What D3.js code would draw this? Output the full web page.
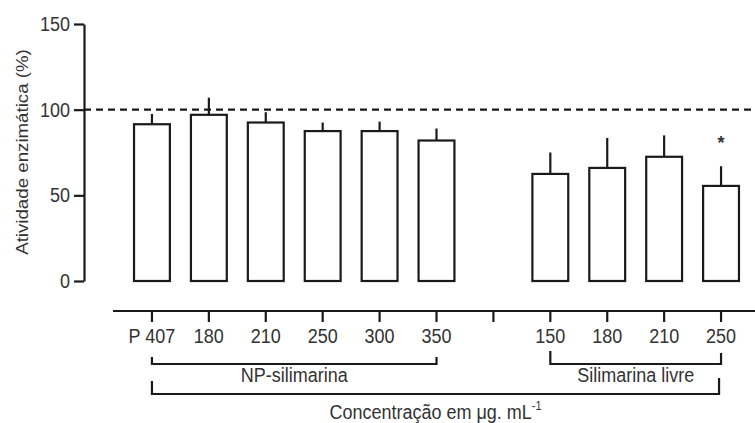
<!DOCTYPE html>
<html><head><meta charset="utf-8">
<script src="https://cdn.jsdelivr.net/npm/d3@7"></script>
<style>
html,body{margin:0;padding:0;background:#fff;}
svg{display:block;font-family:"Liberation Sans",Arial,sans-serif;}
</style></head>
<body>
<svg id="chart" width="755" height="423"></svg>
<script>
const categories = ["P 407","180","210","250","300","350","","150","180","210","250"];
const values = [91.5, 97, 92.5, 87.5, 87.5, 82, null, 62.5, 66, 72.5, 55.5];
const errors = [6, 10, 6, 5, 5.5, 7, null, 12.5, 17.5, 12.5, 11.5];
const significant = [false,false,false,false,false,false,false,false,false,false,true];
const yTicks = [0, 50, 100, 150];
const referenceLine = 100;
const groupLabels = ["NP-silimarina", "Silimarina livre"];
const groupFrom = [0, 7];
const groupTo = [5, 10];
const yLabel = "Atividade enzimática (%)";
const xLabel = "Concentração em μg. mL";
const xLabelSup = "-1";

const svg = d3.select("#chart");
const ink = "#1a1a1a", txt = "#333";
const ids = categories.map((c,i)=>i);
const stretch = 1.1;

const x = d3.scaleBand().domain(ids).range([123.5, 749.5]).paddingInner(0.37).paddingOuter(0.185);
const y = d3.scaleLinear().domain([0,150]).range([281,24]);
const cx = i => x(i) + x.bandwidth()/2;

function label(sel, px, py, str, size){
  return sel.append("text").attr("transform",`translate(${px},${py}) scale(1,${stretch})`)
    .attr("text-anchor","middle").attr("font-size",size).attr("fill",txt).text(str);
}

// y axis
const ya = svg.append("g").attr("transform","translate(84,0)")
  .call(d3.axisLeft(y).tickValues(yTicks).tickSize(10).tickSizeOuter(0).tickPadding(4));
ya.select(".domain").attr("stroke",ink).attr("stroke-width",2.2);
ya.selectAll(".tick line").attr("stroke",ink).attr("stroke-width",2.2);
ya.selectAll(".tick text").attr("font-size",18).attr("fill",txt)
  .attr("font-family","Liberation Sans, Arial, sans-serif").attr("transform",`scale(1,${stretch})`);

// y label
svg.append("text").attr("transform",`translate(28,152) rotate(-90) scale(${stretch},1)`)
  .attr("text-anchor","middle").attr("font-size",17).attr("fill",txt).text(yLabel);

// reference dashed line
svg.append("line").attr("x1",84).attr("x2",755).attr("y1",y(referenceLine)).attr("y2",y(referenceLine))
  .attr("stroke",ink).attr("stroke-width",2.4).attr("stroke-dasharray","7,5");

const data = ids.filter(i=>values[i]!=null);

// error bars
svg.append("g").selectAll("line").data(data).join("line")
  .attr("x1",cx).attr("x2",cx)
  .attr("y1",i=>y(values[i])).attr("y2",i=>y(values[i]+errors[i]))
  .attr("stroke",ink).attr("stroke-width",2.2);

// bars
svg.append("g").selectAll("rect").data(data).join("rect")
  .attr("x",i=>x(i)).attr("width",x.bandwidth())
  .attr("y",i=>y(values[i])).attr("height",i=>y(0)-y(values[i]))
  .attr("fill","#fff").attr("stroke",ink).attr("stroke-width",2.2);

// significance
svg.append("g").selectAll("text").data(data.filter(i=>significant[i])).join("text")
  .attr("x",cx).attr("y",i=>y(values[i]+errors[i])-17)
  .attr("text-anchor","middle").attr("font-size",18).attr("font-weight","bold").attr("fill",txt).text("*");

// x axis
const xa = svg.append("g").attr("transform","translate(0,311)")
  .call(d3.axisBottom(x).tickSize(11).tickPadding(5).tickFormat(i=>categories[i]));
xa.select(".domain").remove();
xa.selectAll(".tick line").attr("stroke",ink).attr("stroke-width",2.2);
xa.selectAll(".tick text").attr("font-size",18).attr("fill",txt)
  .attr("font-family","Liberation Sans, Arial, sans-serif").attr("transform",`scale(1,${stretch})`);
svg.append("line").attr("x1",113).attr("x2",755).attr("y1",311).attr("y2",311)
  .attr("stroke",ink).attr("stroke-width",2.2);

// group brackets
const tops = [357, 351];
groupLabels.forEach((lab,g)=>{
  const x1 = cx(groupFrom[g]), x2 = cx(groupTo[g]);
  svg.append("path").attr("d",`M${x1},${tops[g]}V364H${x2}V${tops[g]+ (g?2:0)}`)
    .attr("fill","none").attr("stroke",ink).attr("stroke-width",2.2);
  label(svg, (x1+x2)/2, 382, lab, 18);
});

// overall bracket
const ox1 = cx(0), ox2 = cx(ids.length-1)-2;
svg.append("path").attr("d",`M${ox1},381V394H${ox2}V378`)
  .attr("fill","none").attr("stroke",ink).attr("stroke-width",2.2);
const xl = label(svg, (ox1+ox2)/2, 419, null, 18);
xl.append("tspan").text(xLabel);
xl.append("tspan").attr("font-size",11).attr("dy",-8).text(xLabelSup);
</script>
</body></html>
